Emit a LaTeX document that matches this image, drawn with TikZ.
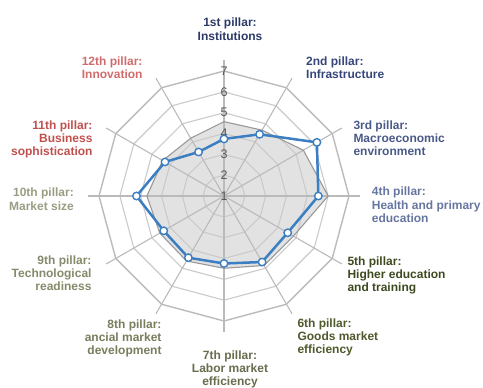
\documentclass[tikz,border=0pt]{standalone}
\usepackage{fontspec}
\setmainfont{Liberation Sans}
\definecolor{cA}{HTML}{2B3A67}
\definecolor{cB}{HTML}{36467A}
\definecolor{cC}{HTML}{4A5A88}
\definecolor{cD}{HTML}{6676A0}
\definecolor{cE}{HTML}{3D4A1F}
\definecolor{cF}{HTML}{4E592C}
\definecolor{cG}{HTML}{676D4C}
\definecolor{cH}{HTML}{787D5C}
\definecolor{cI}{HTML}{858A6A}
\definecolor{cJ}{HTML}{999D82}
\definecolor{cK}{HTML}{C0504D}
\definecolor{cL}{HTML}{D06B6B}
\definecolor{ringc}{HTML}{CACACA}
\definecolor{outerc}{HTML}{BABABA}
\definecolor{avgfill}{HTML}{E2E2E2}
\definecolor{avgline}{HTML}{999999}
\definecolor{blueline}{HTML}{3B7EC2}
\definecolor{tickc}{HTML}{555555}
\tikzset{
  ring/.style={draw=ringc, line width=1.1pt},
  outerring/.style={draw=outerc, line width=1.4pt},
  spoke/.style={draw=outerc, line width=1.1pt},
  lbl/.style={font=\bfseries\fontsize{12}{13.3}\selectfont, inner sep=0pt},
  tick/.style={font=\fontsize{12.5}{12.5}\selectfont, text=tickc, inner sep=0pt},
  mk/.style={circle, draw=blueline, fill=white, line width=1.4pt, minimum size=7.5pt, inner sep=0pt}
}
\begin{document}
\begin{tikzpicture}[x=1pt,y=-1pt]
\useasboundingbox (0,0) rectangle (483,388);
\def\cx{224}\def\cy{196}\def\u{20.83}
% average polygon fill
\def\avglist{4.57,4.65,5.4,6.0,4.85,4.85,4.47,4.6,4.56,4.7,4.4,4.2}
\def\cntrylist{3.74,4.42,6.15,5.53,4.53,4.66,4.24,4.42,4.34,5.2,4.27,3.44}
\foreach \v [count=\k from 0] in \avglist {
  \coordinate (g\k) at ({\cx+(\v-1)*\u*cos(90-30*\k)},{\cy-(\v-1)*\u*sin(90-30*\k)});
}
\foreach \v [count=\k from 0] in \cntrylist {
  \coordinate (b\k) at ({\cx+(\v-1)*\u*cos(90-30*\k)},{\cy-(\v-1)*\u*sin(90-30*\k)});
}
\fill[avgfill] (g0)--(g1)--(g2)--(g3)--(g4)--(g5)--(g6)--(g7)--(g8)--(g9)--(g10)--(g11)--cycle;
% rings
\foreach \L in {2,...,6} {
  \draw[ring] ({\cx},{\cy-(\L-1)*\u}) \foreach \k in {1,...,11}{ -- ({\cx+(\L-1)*\u*cos(90-30*\k)},{\cy-(\L-1)*\u*sin(90-30*\k)}) } -- cycle;
}
\draw[outerring] ({\cx},{\cy-6*\u}) \foreach \k in {1,...,11}{ -- ({\cx+6*\u*cos(90-30*\k)},{\cy-6*\u*sin(90-30*\k)}) } -- cycle;
% spokes
\coordinate (c) at (\cx,\cy);
\foreach \k in {0,...,11} {
  \coordinate (s\k) at ({\cx+136*cos(90-30*\k)},{\cy-136*sin(90-30*\k)});
  \draw[spoke] (c) -- (s\k);
}
% average outline
\draw[avgline, line width=1.1pt, line join=round] (g0)--(g1)--(g2)--(g3)--(g4)--(g5)--(g6)--(g7)--(g8)--(g9)--(g10)--(g11)--cycle;
% tick labels
\foreach \L in {1,...,7} {
  \node[tick] (t\L) at ({\cx},{\cy-(\L-1)*\u}) {\L};
}
% country line
\draw[blueline, line width=2.5pt, line join=round] (b0)--(b1)--(b2)--(b3)--(b4)--(b5)--(b6)--(b7)--(b8)--(b9)--(b10)--(b11)--cycle;
\foreach \k in {0,...,11} { \node[mk] (m\k) at (b\k) {}; }
% labels
\node[lbl, text=cA, anchor=base] (l1a) at (230,26.7) {1st pillar:};
\node[lbl, text=cA, anchor=base] (l1b) at (230,40) {Institutions};
\node[lbl, text=cB, anchor=base west] (l2a) at (306,65) {2nd pillar:};
\node[lbl, text=cB, anchor=base west] (l2b) at (306,78.3) {Infrastructure};
\node[lbl, text=cC, anchor=base west] (l3a) at (353.3,129) {3rd pillar:};
\node[lbl, text=cC, anchor=base west] (l3b) at (353.3,142.3) {Macroeconomic};
\node[lbl, text=cC, anchor=base west] (l3c) at (353.3,155.6) {environment};
\node[lbl, text=cD, anchor=base west] (l4a) at (371.7,195.7) {4th pillar:};
\node[lbl, text=cD, anchor=base west] (l4b) at (371.7,209) {Health and primary};
\node[lbl, text=cD, anchor=base west] (l4c) at (371.7,222.3) {education};
\node[lbl, text=cE, anchor=base west] (l5a) at (347.3,265) {5th pillar:};
\node[lbl, text=cE, anchor=base west] (l5b) at (347.3,278.3) {Higher education};
\node[lbl, text=cE, anchor=base west] (l5c) at (347.3,291.6) {and training};
\node[lbl, text=cF, anchor=base west] (l6a) at (297.3,327.3) {6th pillar:};
\node[lbl, text=cF, anchor=base west] (l6b) at (297.3,340.6) {Goods market};
\node[lbl, text=cF, anchor=base west] (l6c) at (297.3,353.9) {efficiency};
\node[lbl, text=cG, anchor=base] (l7a) at (230,359) {7th pillar:};
\node[lbl, text=cG, anchor=base] (l7b) at (230,372.3) {Labor market};
\node[lbl, text=cG, anchor=base] (l7c) at (230,385.6) {efficiency};
\node[lbl, text=cH, anchor=base east] (l8a) at (161.7,328.3) {8th pillar:};
\node[lbl, text=cH, anchor=base east] (l8b) at (161.7,341.6) {ancial market};
\node[lbl, text=cH, anchor=base east] (l8c) at (161.7,354.9) {development};
\node[lbl, text=cI, anchor=base east] (l9a) at (91.7,264) {9th pillar:};
\node[lbl, text=cI, anchor=base east] (l9b) at (91.7,277.3) {Technological};
\node[lbl, text=cI, anchor=base east] (l9c) at (91.7,290.6) {readiness};
\node[lbl, text=cJ, anchor=base east] (l10a) at (74,196.7) {10th pillar:};
\node[lbl, text=cJ, anchor=base east] (l10b) at (74,210) {Market size};
\node[lbl, text=cK, anchor=base east] (l11a) at (92.7,129) {11th pillar:};
\node[lbl, text=cK, anchor=base east] (l11b) at (92.7,142.3) {Business};
\node[lbl, text=cK, anchor=base east] (l11c) at (92.7,155.6) {sophistication};
\node[lbl, text=cL, anchor=base east] (l12a) at (142.7,65) {12th pillar:};
\node[lbl, text=cL, anchor=base east] (l12b) at (142.7,78.3) {Innovation};
\end{tikzpicture}
\end{document}
